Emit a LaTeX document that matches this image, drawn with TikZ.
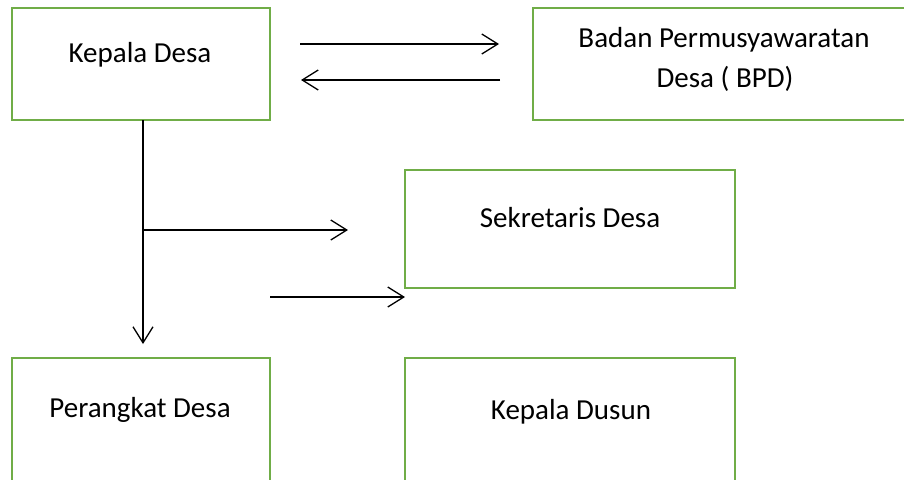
\documentclass[tikz,border=0pt]{standalone}
\usepackage{fontspec}
\setmainfont{Carlito}
\usetikzlibrary{arrows.meta}
\definecolor{boxgreen}{HTML}{70AD47}
\begin{document}
\begin{tikzpicture}[x=1pt,y=-1pt,
  box/.style={draw=boxgreen, line width=2.5pt, rectangle, inner sep=0pt, outer sep=0pt},
  lbl/.style={anchor=base, inner sep=0pt, font=\fontsize{29}{40}\selectfont},
  conn/.style={line width=1.3pt, -{Straight Barb[length=16pt,width=20pt,line width=1.3pt]}}]
\useasboundingbox (0,0) rectangle (904,479);
\clip (0,0) rectangle (904,479);
% boxes
\node[box, minimum width=258pt, minimum height=112pt] (kd) at (141,64) {};
\node[box, minimum width=382pt, minimum height=112pt] (bpd) at (724,64) {};
\node[box, minimum width=330pt, minimum height=118pt] (sd) at (570,229) {};
\node[box, minimum width=258pt, minimum height=132pt] (pd) at (141,424) {};
\node[box, minimum width=330pt, minimum height=132pt] (kds) at (570,424) {};
% texts
\node[lbl] (tkd) at (140,62) {Kepala Desa};
\node[lbl] (tbpd1) at (724,47) {Badan Permusyawaratan};
\node[lbl] (tbpd2) at (725,87) {Desa ( BPD)};
\node[lbl] (tsd) at (570,227) {Sekretaris Desa};
\node[lbl] (tpd) at (140,417) {Perangkat Desa};
\node[lbl] (tkds) at (571,419) {Kepala Dusun};
% connector coordinates
\coordinate (a1s) at (300,44);
\coordinate (a1e) at (499,44);
\coordinate (a2s) at (500,80);
\coordinate (a2e) at (301,80);
\coordinate (vtop) at (143,120);
\coordinate (vtip) at (143,344);
\coordinate (br) at (143,230);
\coordinate (bre) at (348,230);
\coordinate (a3s) at (270,297);
\coordinate (a3e) at (405,297);
% connectors
\draw[conn] (a1s) -- (a1e);
\draw[conn] (a2s) -- (a2e);
\draw[conn] (vtop) -- (vtip);
\draw[conn] (br) -- (bre);
\draw[conn] (a3s) -- (a3e);
\end{tikzpicture}
\end{document}
